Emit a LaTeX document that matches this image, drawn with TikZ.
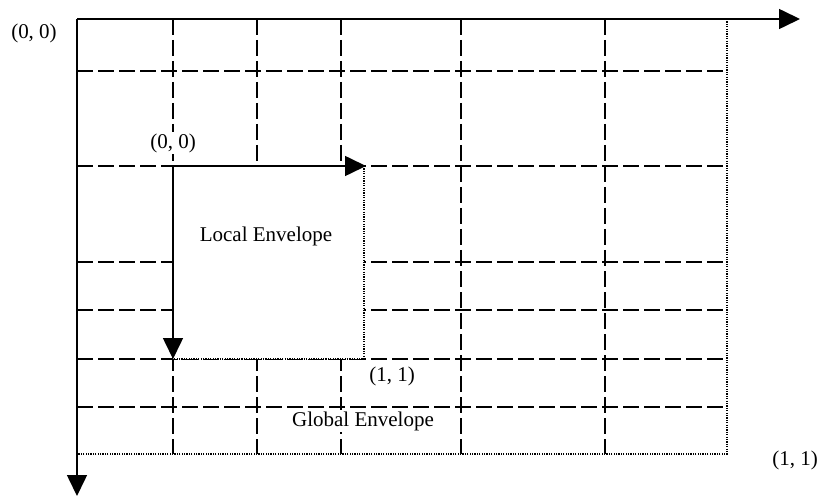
\documentclass[tikz,border=0pt]{standalone}
\usepackage{fontspec}
\setmainfont{Liberation Serif}
\usetikzlibrary{arrows.meta}
\tikzset{
  gridline/.style={line width=1.8pt, dash pattern=on 16pt off 5pt},
  dotline/.style={line width=1.2pt, dash pattern=on 1.2pt off 1.2pt},
  axis/.style={line width=1.6pt, -{Triangle[length=21pt,width=20pt]}},
  lbl/.style={font=\fontsize{21}{25}\selectfont, inner sep=1pt},
  wlbl/.style={lbl, fill=white}
}
\begin{document}
\begin{tikzpicture}[x=1pt,y=-1pt]
\useasboundingbox (0,0) rectangle (822,497);
% global origin and ends
\coordinate (G) at (77,19);
\coordinate (GX) at (800,19);
\coordinate (GY) at (77,496);
\coordinate (GC) at (727,454);
% grid verticals
\foreach \x in {173,257,341,461,605} {
  \draw[gridline] (\x,19) -- (\x,454);
}
% grid horizontals
\foreach \y in {71,166,262,310,359,407} {
  \draw[gridline] (77,\y) -- (727,\y);
}
% global dotted edges
\draw[dotline] (G -| GC) -- (GC) -- (G |- GC);
% local envelope
\coordinate (L) at (173,166);
\coordinate (LX) at (366,166);
\coordinate (LY) at (173,359);
\coordinate (LC) at (364,359);
\fill[white] (L) rectangle (LC);
\draw[dotline] (L -| LC) -- (LC) -- (LY);
\draw[axis] (L) -- (LX);
\draw[axis] (L) -- (LY);
% global axes
\draw[axis] (G) -- (GX);
\draw[axis] (G) -- (GY);
% labels
\node[lbl] (g00) at (34,33) {(0, 0)};
\node[wlbl] (l00) at (173,143) {(0, 0)};
\node[lbl] (le) at (266,236) {Local Envelope};
\node[lbl] (l11) at (392,376) {(1, 1)};
\node[wlbl] (ge) at (363,421) {Global Envelope};
\node[lbl] (g11) at (795,460) {(1, 1)};
\end{tikzpicture}
\end{document}
